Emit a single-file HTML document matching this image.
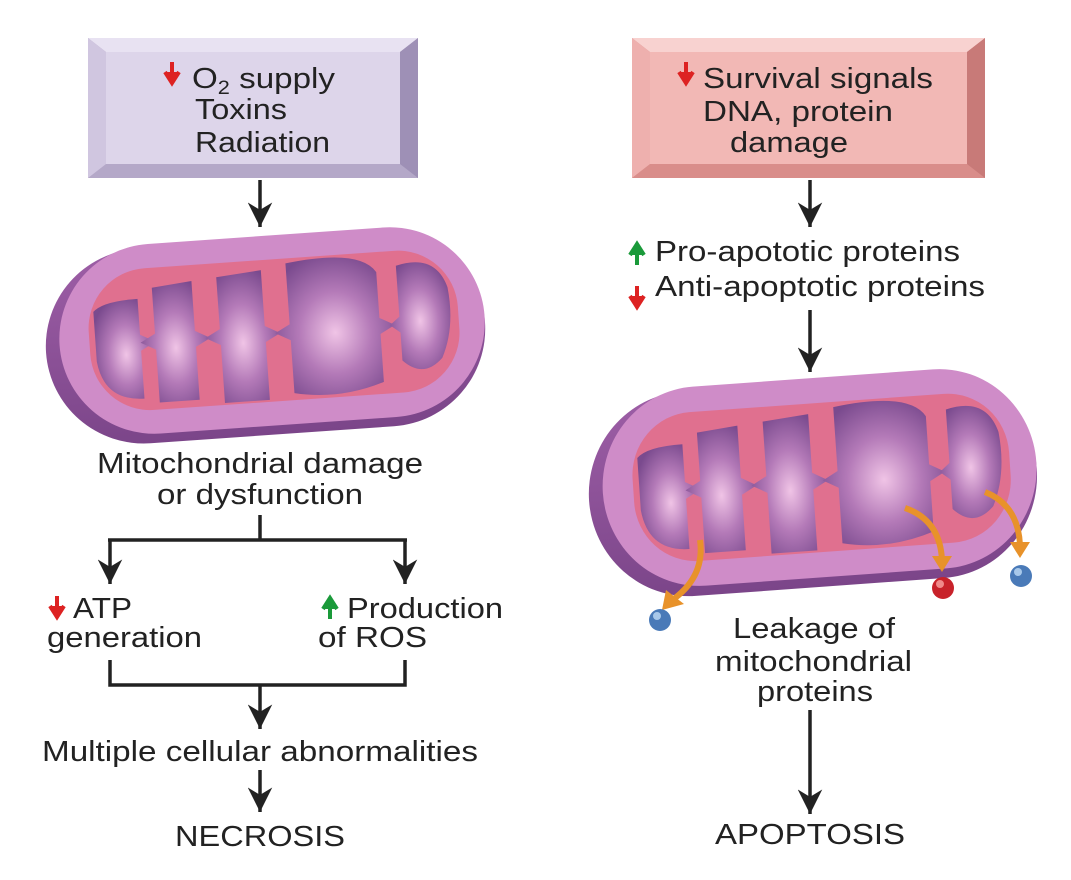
<!DOCTYPE html>
<html><head><meta charset="utf-8"><style>
body{margin:0;background:#fff;width:1071px;height:875px;overflow:hidden;font-family:"Liberation Sans",sans-serif}
</style></head><body>
<svg width="1071" height="875" viewBox="0 0 1071 875" xmlns="http://www.w3.org/2000/svg" font-family="Liberation Sans, sans-serif" font-size="29" fill="#222">
<defs>
<radialGradient id="cg" cx="0.5" cy="0.55" r="0.6"><stop offset="0" stop-color="#f0c4e6"/><stop offset="0.5" stop-color="#b47ab8"/><stop offset="1" stop-color="#7a4a8e"/></radialGradient>
<linearGradient id="og" x1="0" y1="0" x2="0" y2="1"><stop offset="0" stop-color="#9d5ea6"/><stop offset="1" stop-color="#7b4589"/></linearGradient>
<g id="mito">
<rect x="0" y="10" width="440" height="195" rx="98" fill="url(#og)"/>
<rect x="14" y="6" width="426" height="190" rx="95" fill="#cf8cc8"/>
<rect x="44" y="30" width="370" height="142" rx="60" fill="#e0708f"/>
<path d="M50,70 Q60,60 95,60 L95,96 L110,104 L95,112 L95,160 Q55,160 50,120 Z" fill="url(#cg)"/>
<path d="M110,50 L150,46 L150,96 L165,104 L150,112 L150,165 L110,165 L110,112 L95,104 L110,96 Z" fill="url(#cg)"/>
<path d="M175,44 L220,40 L220,96 L235,104 L220,112 L220,170 L175,170 L175,112 L160,104 L175,96 Z" fill="url(#cg)"/>
<path d="M245,35 Q320,25 335,50 L335,96 L350,104 L335,112 L335,160 Q290,175 245,165 L245,112 L230,104 L245,96 Z" fill="url(#cg)"/>
<path d="M355,45 Q395,35 405,70 Q410,110 395,140 Q375,160 355,140 L355,112 L345,104 L355,96 Z" fill="url(#cg)"/>
</g>
<marker id="ah" viewBox="0 0 10 10" refX="10" refY="5" markerWidth="7" markerHeight="7" orient="auto"><path d="M0,0 L10,5 L0,10 L3,5 Z" fill="#222"/></marker>
</defs>
<!-- left box -->
<rect x="88" y="38" width="330" height="140" fill="#b4a8c8"/>
<polygon points="88,38 418,38 400,52 106,52" fill="#e8e2f2"/>
<polygon points="88,38 106,52 106,164 88,178" fill="#d0c6e0"/>
<polygon points="418,38 400,52 400,164 418,178" fill="#9e90b6"/>
<rect x="106" y="52" width="294" height="112" fill="#ddd5ea"/>
<text x="192" y="88" textLength="143" lengthAdjust="spacingAndGlyphs">O<tspan font-size="19" dy="6">2</tspan><tspan dy="-6"> supply</tspan></text>
<text x="195" y="119" textLength="92" lengthAdjust="spacingAndGlyphs">Toxins</text>
<text x="195" y="152" textLength="135" lengthAdjust="spacingAndGlyphs">Radiation</text>
<path d="M172,62 v16 M165,72 l7,11 l7,-11" stroke="#d22" stroke-width="4" fill="#d22"/>
<!-- right box -->
<rect x="632" y="38" width="353" height="140" fill="#d98d8a"/>
<polygon points="632,38 985,38 967,52 650,52" fill="#f8d2d0"/>
<polygon points="632,38 650,52 650,164 632,178" fill="#eeb0ae"/>
<polygon points="985,38 967,52 967,164 985,178" fill="#c87a78"/>
<rect x="650" y="52" width="317" height="112" fill="#f2b8b5"/>
<text x="703" y="88" textLength="230" lengthAdjust="spacingAndGlyphs">Survival signals</text>
<text x="703" y="121" textLength="190" lengthAdjust="spacingAndGlyphs">DNA, protein</text>
<text x="730" y="152" textLength="118" lengthAdjust="spacingAndGlyphs">damage</text>
<path d="M686,62 v16 M679,72 l7,11 l7,-11" stroke="#d22" stroke-width="4" fill="#d22"/>
<!-- arrows -->
<g stroke="#222" stroke-width="3.5" fill="none" marker-end="url(#ah)">
<line x1="260" y1="180" x2="260" y2="227"/>
<line x1="810" y1="180" x2="810" y2="227"/>
<line x1="810" y1="310" x2="810" y2="372"/>
<line x1="110" y1="540" x2="110" y2="584"/>
<line x1="405" y1="540" x2="405" y2="584"/>
<line x1="260" y1="685" x2="260" y2="729"/>
<line x1="260" y1="770" x2="260" y2="812"/>
<line x1="810" y1="710" x2="810" y2="814"/>
</g>
<g stroke="#222" stroke-width="3.5" fill="none">
<polyline points="260,515 260,540"/><polyline points="108,540 407,540"/>
<polyline points="110,660 110,685 405,685 405,660"/>
</g>
<use href="#mito" transform="translate(45,230) rotate(-4 220 100)"/>
<use href="#mito" transform="translate(588,372) scale(1.02,1.05) rotate(-4 220 100)"/>
<text x="97" y="473" textLength="326" lengthAdjust="spacingAndGlyphs">Mitochondrial damage</text>
<text x="157" y="504" textLength="206" lengthAdjust="spacingAndGlyphs">or dysfunction</text>
<path d="M57,596 v16 M50,606 l7,11 l7,-11" stroke="#d22" stroke-width="4" fill="#d22"/>
<text x="73" y="618" textLength="59" lengthAdjust="spacingAndGlyphs">ATP</text>
<text x="47" y="647" textLength="155" lengthAdjust="spacingAndGlyphs">generation</text>
<path d="M330,619 v-16 M323,609 l7,-11 l7,11" stroke="#1a9a3a" stroke-width="4" fill="#1a9a3a"/>
<text x="347" y="618" textLength="156" lengthAdjust="spacingAndGlyphs">Production</text>
<text x="318" y="647" textLength="109" lengthAdjust="spacingAndGlyphs">of ROS</text>
<text x="42" y="761" textLength="436" lengthAdjust="spacingAndGlyphs">Multiple cellular abnormalities</text>
<text x="175" y="846" textLength="170" lengthAdjust="spacingAndGlyphs">NECROSIS</text>
<path d="M637,265 v-16 M630,255 l7,-11 l7,11" stroke="#1a9a3a" stroke-width="4" fill="#1a9a3a"/>
<text x="655" y="261" textLength="305" lengthAdjust="spacingAndGlyphs">Pro-apototic proteins</text>
<path d="M637,286 v16 M630,296 l7,11 l7,-11" stroke="#d22" stroke-width="4" fill="#d22"/>
<text x="655" y="296" textLength="330" lengthAdjust="spacingAndGlyphs">Anti-apoptotic proteins</text>
<text x="733" y="638" textLength="162" lengthAdjust="spacingAndGlyphs">Leakage of</text>
<text x="715" y="671" textLength="197" lengthAdjust="spacingAndGlyphs">mitochondrial</text>
<text x="757" y="701" textLength="116" lengthAdjust="spacingAndGlyphs">proteins</text>
<text x="715" y="844" textLength="190" lengthAdjust="spacingAndGlyphs">APOPTOSIS</text>
<!-- orange arrows and balls -->
<g stroke="#e8922a" stroke-width="6" fill="none">
<path d="M700,540 Q705,575 675,598"/><path d="M905,508 Q940,520 942,560"/><path d="M985,492 Q1018,505 1020,545"/>
</g>
<g fill="#e8922a"><polygon points="666,590 684,604 662,610"/><polygon points="932,556 952,556 942,572"/><polygon points="1010,542 1030,542 1020,558"/></g>
<circle cx="660" cy="620" r="11" fill="#4a7ab8"/><circle cx="657" cy="616" r="4" fill="#a8c8ea"/>
<circle cx="943" cy="588" r="11" fill="#c8222a"/><circle cx="940" cy="584" r="4" fill="#f08a8a"/>
<circle cx="1021" cy="576" r="11" fill="#4a7ab8"/><circle cx="1018" cy="572" r="4" fill="#a8c8ea"/>
</svg>
</body></html>
